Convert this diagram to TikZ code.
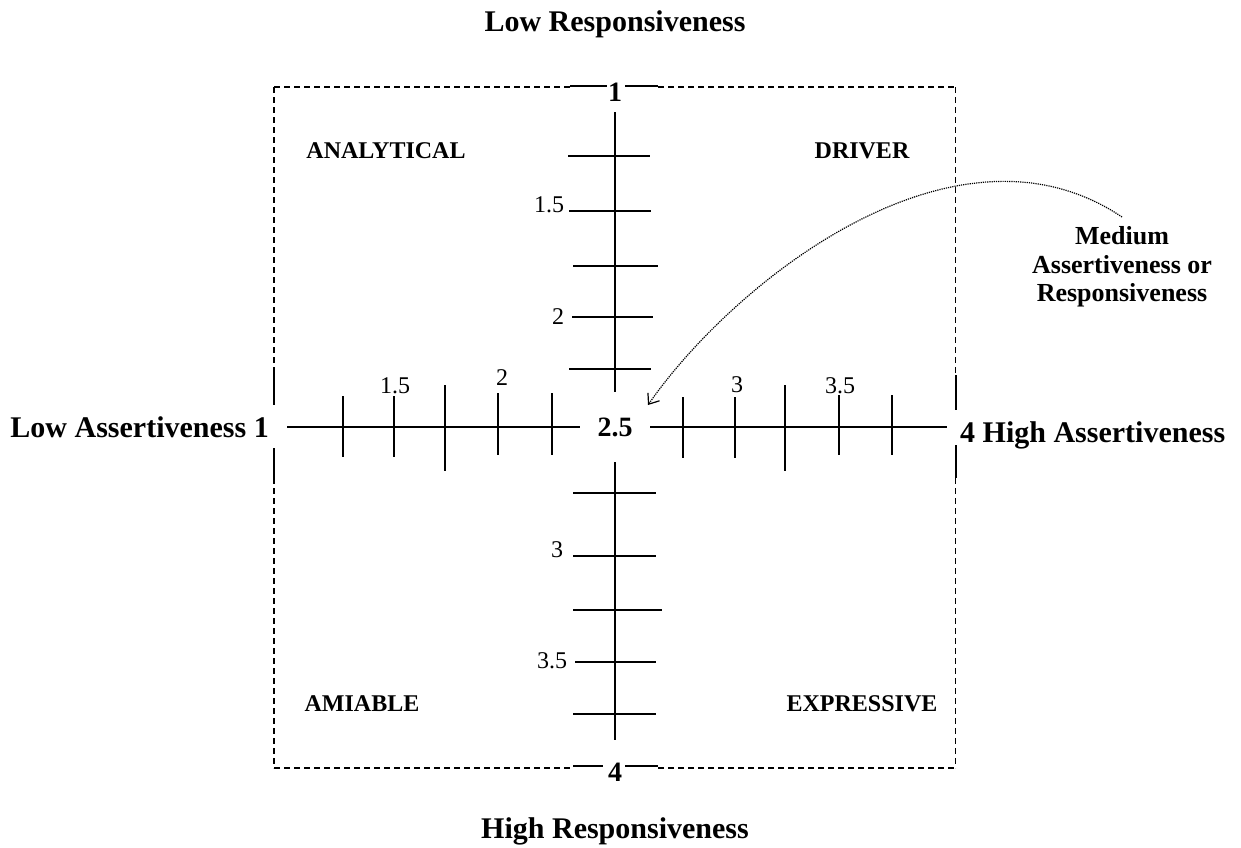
\documentclass[tikz,border=0pt]{standalone}
\usepackage{fontspec}
\setmainfont{Liberation Serif}
\usetikzlibrary{arrows.meta}
\begin{document}
\begin{tikzpicture}[x=1pt,y=-1pt,
  axisline/.style={line width=2pt},
  tickline/.style={line width=2pt},
  border/.style={line width=1.3pt, dash pattern=on 6pt off 4pt},
  bsolid/.style={line width=2pt},
  axlabel/.style={font=\fontsize{30}{36}\selectfont\bfseries, inner sep=0pt, anchor=base},
  numlabel/.style={font=\fontsize{28}{32}\selectfont\bfseries, inner sep=0pt, anchor=base},
  quad/.style={font=\fontsize{24}{28}\selectfont\bfseries, inner sep=0pt, anchor=base},
  ticklabel/.style={font=\fontsize{24}{28}\selectfont, inner sep=0pt, anchor=base},
  note/.style={font=\fontsize{26}{28.5}\selectfont\bfseries, align=center, inner sep=0pt},
  pointer/.style={line width=1.2pt, densely dotted, -{Straight Barb[length=9pt,width=14pt]}}
]
\useasboundingbox (0,0) rectangle (1241,847);

% dashed frame, broken where the axes meet it
\draw[border] (274,87) -- (570,87);
\draw[border] (658,87) -- (955.5,87);
\draw[border] (274,768) -- (573,768);
\draw[border] (658,768) -- (955.5,768);
\draw[border] (274,87) -- (274,372);
\draw[border] (274,478) -- (274,768);
\draw[border] (955.5,87) -- (955.5,375);
\draw[border] (955.5,478) -- (955.5,768);
% solid pieces of the frame next to the axis ends
\draw[bsolid] (570,86) -- (607,86) (625,86) -- (658,86);
\draw[bsolid] (573,766) -- (603,766) (625,766) -- (658,766);
\draw[bsolid] (274,372) -- (274,405) (274,448) -- (274,478);
\draw[bsolid] (955.5,375) -- (955.5,410) (955.5,445) -- (955.5,478);

% vertical axis
\draw[axisline] (615,112) -- (615,392);
\draw[axisline] (615,462) -- (615,740);
\draw[tickline] (568,156) -- (650,156);
\draw[tickline] (569,211) -- (651,211);
\draw[tickline] (573,266) -- (658,266);
\draw[tickline] (572,317) -- (653,317);
\draw[tickline] (569,369) -- (651,369);
\draw[tickline] (573,493) -- (656,493);
\draw[tickline] (573,556) -- (656,556);
\draw[tickline] (573,610) -- (662,610);
\draw[tickline] (575,662) -- (656,662);
\draw[tickline] (573,714) -- (656,714);

% horizontal axis
\draw[axisline] (287,427) -- (580,427);
\draw[axisline] (650,427) -- (947,427);
\draw[tickline] (343,396) -- (343,457);
\draw[tickline] (394,396) -- (394,457);
\draw[tickline] (445,385) -- (445,471);
\draw[tickline] (498,393) -- (498,455);
\draw[tickline] (552,393) -- (552,455);
\draw[tickline] (683,397) -- (683,458);
\draw[tickline] (735,397) -- (735,458);
\draw[tickline] (785,385) -- (785,471);
\draw[tickline] (839,395) -- (839,455);
\draw[tickline] (892,395) -- (892,455);

% axis titles
\node[axlabel] (lowresp) at (615,31) {Low Responsiveness};
\node[axlabel] (highresp) at (615,838) {High Responsiveness};
\node[axlabel, anchor=base east] (lowass) at (269,437) {Low Assertiveness 1};
\node[axlabel, anchor=base west] (highass) at (960,442) {4 High Assertiveness};

% axis numbers
\node[numlabel] (top1) at (615,101) {1};
\node[numlabel] (bot4) at (615,781) {4};
\node[numlabel] (mid) at (615,436) {2.5};

% tick labels
\node[ticklabel] (v15) at (549,212) {1.5};
\node[ticklabel] (v2) at (558,324) {2};
\node[ticklabel] (v3) at (557,557) {3};
\node[ticklabel] (v35) at (552,668) {3.5};
\node[ticklabel] (h15) at (395,393) {1.5};
\node[ticklabel] (h2) at (502,385) {2};
\node[ticklabel] (h3) at (737,392) {3};
\node[ticklabel] (h35) at (840,393) {3.5};

% quadrant names
\node[quad] (analytical) at (386,158) {ANALYTICAL};
\node[quad] (driver) at (862,158) {DRIVER};
\node[quad] (amiable) at (362,711) {AMIABLE};
\node[quad] (expressive) at (862,711) {EXPRESSIVE};

% note and pointer
\node[note] (medium) at (1122,267) {Medium\\Assertiveness or\\Responsiveness};
\coordinate (arrS) at (1122,217);
\coordinate (arrE) at (648,405);
\draw[pointer] (arrS) .. controls (955,105) and (733.5,282) .. (arrE);
\end{tikzpicture}
\end{document}
